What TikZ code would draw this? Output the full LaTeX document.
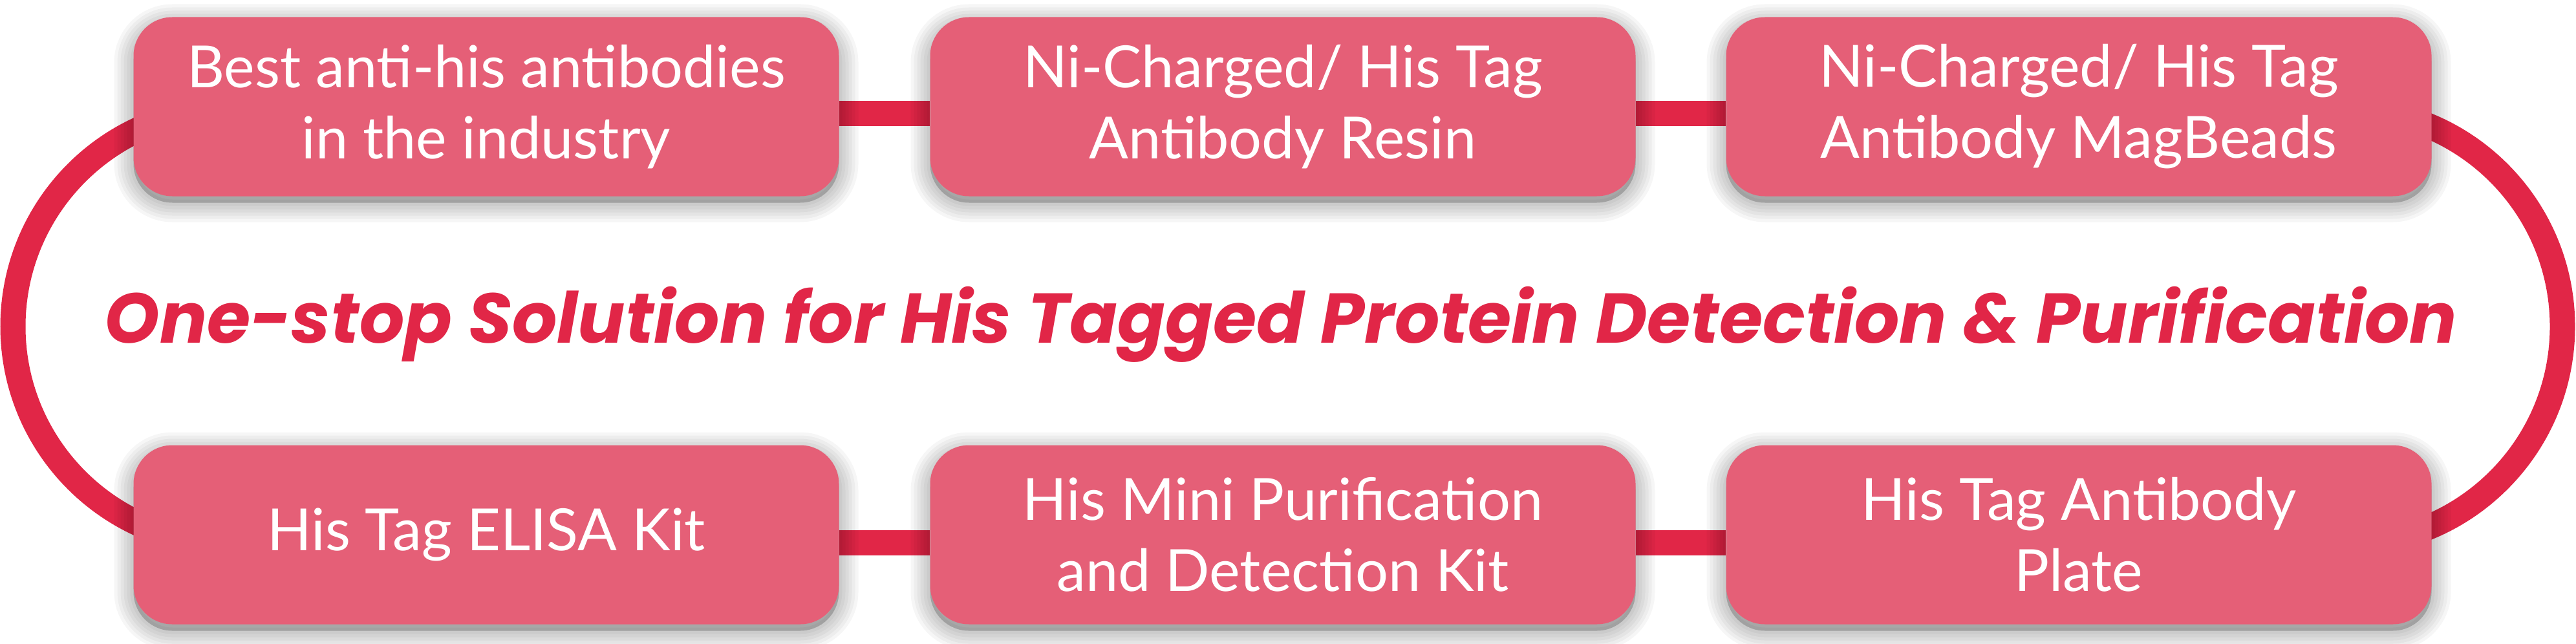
\documentclass[tikz,border=0pt]{standalone}
\usepackage{fontspec}
\setmainfont{Lato}
\newfontfamily\titlefont{Poppins}
\usetikzlibrary{backgrounds}

\definecolor{boxpink}{RGB}{229,95,119}
\definecolor{ringred}{RGB}{225,38,71}

\tikzset{
  halo/.style={preaction={draw=black, fill=black, line width=#1, opacity=0.035,
    transform canvas={yshift=-0.1cm}}},
  product/.style={fill=boxpink, rounded corners=0.6cm, minimum width=10.91cm,
    minimum height=2.77cm, align=center, text=white,
    font=\fontsize{25.6}{31.3}\selectfont,
    halo=0.6cm, halo=0.5cm, halo=0.4cm, halo=0.3cm, halo=0.2cm, halo=0.1cm},
  link/.style={draw=ringred, line width=0.39cm}
}

\begin{document}
\begin{tikzpicture}
% Page
\begin{pgfonlayer}{background}
\fill[white] (0,0) rectangle (39.84,9.95);
\end{pgfonlayer}
\useasboundingbox (0,0) rectangle (39.84,9.95);

% Top row
\node[product] (antibodies) at (7.52,8.30) {Best anti-his antibodies\\in the industry};
\node[product] (resin) at (19.84,8.30) {Ni-Charged/ His Tag\\Antibody Resin};
\node[product] (beads) at (32.15,8.30) {Ni-Charged/ His Tag\\Antibody MagBeads};

% Bottom row
\node[product] (elisa) at (7.52,1.68) {His Tag ELISA Kit};
\node[product] (minikit) at (19.84,1.68) {His Mini Purification\\and Detection Kit};
\node[product] (plate) at (32.15,1.68) {His Tag Antibody\\Plate};

% Title
\node[text=ringred, font=\titlefont\fontsize{31}{37}\selectfont\bfseries\itshape] (title) at (19.81,4.93)
  {One-stop Solution for His Tagged Protein Detection \& Purification};

% Ring
\begin{pgfonlayer}{background}
\draw[link] ([yshift=-0.1cm]antibodies.east) -- ([yshift=-0.1cm]resin.west);
\draw[link] ([yshift=-0.1cm]resin.east) -- ([yshift=-0.1cm]beads.west);
\draw[link] ([yshift=-0.12cm]elisa.east) -- ([yshift=-0.12cm]minikit.west);
\draw[link] ([yshift=-0.12cm]minikit.east) -- ([yshift=-0.12cm]plate.west);
\draw[link] ([xshift=-3.96cm,yshift=-0.04cm]antibodies.center) arc[start angle=90, end angle=270, radius=3.36cm];
\draw[link] ([xshift=4.12cm,yshift=-0.04cm]beads.center) arc[start angle=90, end angle=-90, radius=3.36cm];
\end{pgfonlayer}

\end{tikzpicture}
\end{document}
